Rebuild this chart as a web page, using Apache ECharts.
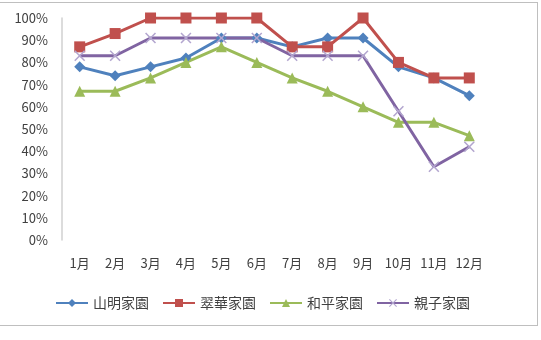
<!DOCTYPE html>
<html>
<head>
<meta charset="utf-8">
<script src="https://cdn.jsdelivr.net/npm/echarts@6/dist/echarts.min.js"></script>
<style>
  html, body { margin: 0; padding: 0; background: #fff; }
  #frame { position: absolute; left: -1px; top: 2px; width: 537px; height: 322px; border: 1px solid #bfbfbf; }
  #chart { position: absolute; left: 0; top: 0; width: 541px; height: 340px; }
</style>
</head>
<body>
<div id="frame"></div>
<div id="chart"></div>
<script>
var months = ['1月', '2月', '3月', '4月', '5月', '6月', '7月', '8月', '9月', '10月', '11月', '12月'];
var names = ['山明家園', '翠華家園', '和平家園', '親子家園'];
var shanming = [78, 74, 78, 82, 91, 91, 87, 91, 91, 78, 73, 65];
var cuihua = [87, 93, 100, 100, 100, 100, 87, 87, 100, 80, 73, 73];
var heping = [67, 67, 73, 80, 87, 80, 73, 67, 60, 53, 53, 47];
var qinzi = [83, 83, 91, 91, 91, 91, 83, 83, 83, 58, 33, 42];

var crossPath = 'path://M0,1L1,0L5,4L9,0L10,1L6,5L10,9L9,10L5,6L1,10L0,9L4,5Z';

var chart = echarts.init(document.getElementById('chart'));

function mk(name, data, color, symbol, size, markerColor) {
  return {
    name: name,
    type: 'line',
    data: data,
    symbol: symbol,
    symbolSize: size,
    lineStyle: { color: color, width: 3 },
    itemStyle: { color: markerColor || color },
    emphasis: { disabled: true },
    z: 2
  };
}

chart.setOption({
  animation: false,
  textStyle: { fontFamily: '"Noto Sans CJK TC", sans-serif' },
  grid: { left: 62, right: 54, top: 18, bottom: 100 },
  legend: {
    bottom: 25,
    left: 50,
    itemWidth: 32,
    itemHeight: 10,
    itemGap: 13,
    textStyle: { fontSize: 14, color: '#404040' },
    data: names
  },
  xAxis: {
    type: 'category',
    data: months,
    boundaryGap: true,
    axisLine: { show: false },
    axisTick: { show: false },
    axisLabel: { interval: 0, fontSize: 13, color: '#404040', margin: 17 }
  },
  yAxis: {
    type: 'value',
    min: 0,
    max: 100,
    interval: 10,
    axisLine: { show: true, lineStyle: { color: '#d0d0d0', width: 1.5 } },
    axisTick: { show: false },
    splitLine: { show: false },
    axisLabel: { fontSize: 13, color: '#404040', margin: 14, formatter: '{value}%' }
  },
  series: [
    mk(names[0], shanming, '#4f81bd', 'diamond', 11),
    mk(names[1], cuihua, '#c0504d', 'rect', 11),
    mk(names[2], heping, '#9bbb59', 'triangle', 11),
    mk(names[3], qinzi, '#8064a2', crossPath, 11, '#b3a6cf')
  ]
});
</script>
</body>
</html>
